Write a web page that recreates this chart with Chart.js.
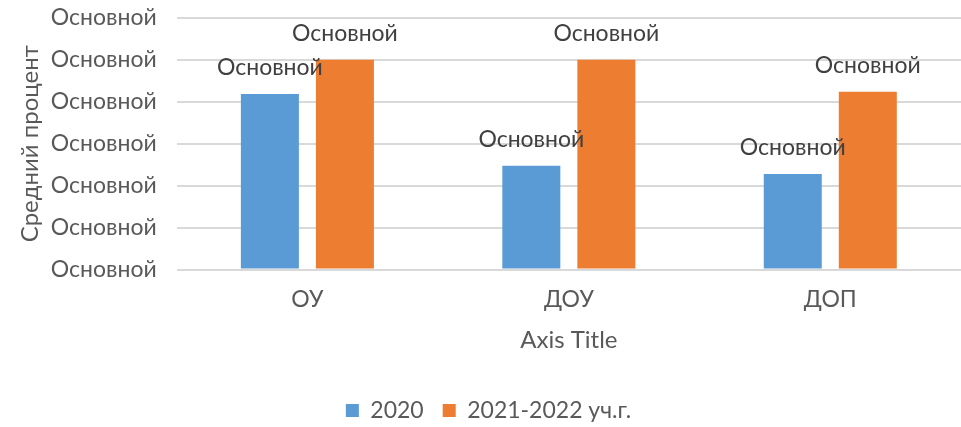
<!DOCTYPE html>
<html>
<head>
<meta charset="utf-8">
<script src="https://cdn.jsdelivr.net/npm/chart.js@4"></script>
<style>
html,body{margin:0;padding:0;background:#fff;}
#wrap{width:961px;height:427px;}
</style>
</head>
<body>
<div id="wrap"><canvas id="c" width="961" height="427"></canvas></div>
<script>
const categories = ["ОУ", "ДОУ", "ДОП"];
const seriesNames = ["2020", "2021-2022 уч.г."];
const values2020 = [83.7, 49.5, 45.6];
const values2021 = [100, 100, 84.8];
const yTickLabels = ["Основной","Основной","Основной","Основной","Основной","Основной","Основной"];
const dataLabels2020 = ["Основной","Основной","Основной"];
const dataLabels2021 = ["Основной","Основной","Основной"];
const yTitle = "Средний процент";
const xTitle = "Axis Title";

const FONT = "Lato, 'Open Sans', sans-serif";
const TXT = "#595959";

const labelPlugin = {
  id: 'barLabels',
  afterDatasetsDraw(chart) {
    const ctx = chart.ctx;
    ctx.save();
    ctx.font = "23px " + FONT;
    ctx.fillStyle = "#404040";
    ctx.textAlign = "center";
    ctx.textBaseline = "middle";
    chart.data.datasets.forEach((ds, di) => {
      const meta = chart.getDatasetMeta(di);
      meta.data.forEach((bar, i) => {
        ctx.fillText(ds.customLabels[i], bar.x, bar.y - 26);
      });
    });
    ctx.restore();
  }
};

new Chart(document.getElementById('c'), {
  type: 'bar',
  data: {
    labels: categories,
    datasets: [
      { label: seriesNames[0], data: values2020, backgroundColor: "#5B9BD5", customLabels: dataLabels2020,
        categoryPercentage: 0.574, barPercentage: 0.773 },
      { label: seriesNames[1], data: values2021, backgroundColor: "#ED7D31", customLabels: dataLabels2021,
        categoryPercentage: 0.574, barPercentage: 0.773 }
    ]
  },
  options: {
    responsive: false,
    animation: false,
    layout: { padding: { top: 0, right: 0, left: 16, bottom: 0 } },
    plugins: {
      tooltip: { enabled: false },
      legend: {
        position: 'bottom',
        maxHeight: 47,
        labels: { font: { family: FONT, size: 23 }, color: TXT, boxWidth: 13, boxHeight: 13, padding: 19 }
      }
    },
    scales: {
      x: {
        grid: { display: false, drawTicks: false },
        border: { display: false },
        ticks: { font: { family: FONT, size: 23 }, color: TXT, padding: 16 },
        title: { display: true, text: xTitle, font: { family: FONT, size: 24 }, color: TXT, padding: { top: -3, bottom: 25 } }
      },
      y: {
        min: 0, max: 120,
        ticks: { stepSize: 20, font: { family: FONT, size: 23 }, color: TXT, padding: 4,
          callback: (v, i) => yTickLabels[i] },
        grid: { color: "#D9D9D9", lineWidth: 2, drawTicks: true, tickLength: 16, tickColor: "rgba(0,0,0,0)" },
        border: { display: false },
        title: { display: true, text: yTitle, font: { family: FONT, size: 24 }, color: TXT, padding: { top: 0, bottom: 2 } }
      }
    }
  },
  plugins: [labelPlugin]
});
</script>
</body>
</html>
